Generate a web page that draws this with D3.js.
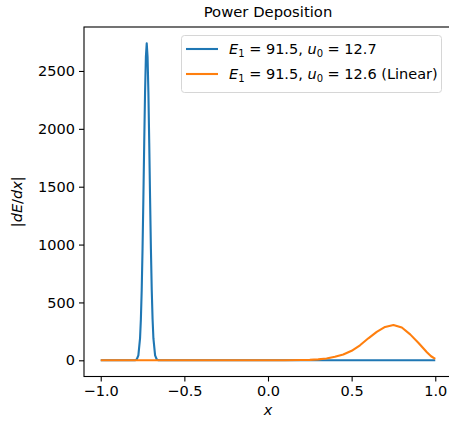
<!DOCTYPE html>
<html>
<head>
<meta charset="utf-8">
<script src="https://cdn.jsdelivr.net/npm/d3@7"></script>
<style>
  body { margin: 0; background: #fff; }
  text { font-family: "DejaVu Sans", sans-serif; fill: #000; }
</style>
</head>
<body>
<div id="chart"></div>
<script>
// values
var blueX = [-1.0, -0.795, -0.785, -0.775, -0.765, -0.76, -0.755, -0.75, -0.745, -0.74, -0.735, -0.73,
  -0.725, -0.72, -0.715, -0.71, -0.705, -0.70, -0.695, -0.69, -0.685, -0.675, -0.665, -0.655, 1.0];
var blueY = [0, 1, 7, 42, 189, 354, 608, 964, 1402, 1878, 2314, 2623,
  2740, 2623, 2314, 1878, 1402, 964, 608, 354, 189, 42, 7, 1, 0];

var orangeX = [-1.0, 0.0, 0.1, 0.2, 0.25, 0.3, 0.35, 0.4, 0.45, 0.5, 0.55, 0.6, 0.65, 0.7,
  0.75, 0.8, 0.85, 0.9, 0.95, 0.975, 1.0];
var orangeY = [0, 0, 0.5, 2, 4, 8, 16, 30, 50, 82, 130, 190, 245, 288,
  305, 283, 224, 150, 70, 35, 12];

var xTicks = [-1.0, -0.5, 0.0, 0.5, 1.0];
var yTicks = [0, 500, 1000, 1500, 2000, 2500];

var W = 449, H = 423;
var mLeft = 84, mRight = 452, mTop = 27, mBottom = 376.5;
var fs = "14.5px";

var svg = d3.select("#chart").append("svg")
  .attr("width", W).attr("height", H);

var xScale = d3.scaleLinear().domain([-1.1, 1.1]).range([mLeft, mRight]);
var yScale = d3.scaleLinear().domain([-140, 2880]).range([mBottom, mTop]);

var line = d3.line()
  .x(function (d) { return xScale(d[0]); })
  .y(function (d) { return yScale(d[1]); });

function pairs(xs, ys) { return xs.map(function (v, i) { return [v, ys[i]]; }); }

var plot = svg.append("g");
plot.append("path").datum(pairs(blueX, blueY)).attr("d", line)
  .attr("fill", "none").attr("stroke", "#1f77b4").attr("stroke-width", 2.1)
  .attr("stroke-linejoin", "round");
plot.append("path").datum(pairs(orangeX, orangeY)).attr("d", line)
  .attr("fill", "none").attr("stroke", "#ff7f0e").attr("stroke-width", 2.1)
  .attr("stroke-linejoin", "round");

// axes
var xAxis = d3.axisBottom(xScale).tickValues(xTicks).tickSize(5).tickPadding(4)
  .tickFormat(function (d) { return d3.format(".1f")(d).replace("-", "\u2212"); });
var yAxis = d3.axisLeft(yScale).tickValues(yTicks).tickSize(5).tickPadding(4)
  .tickFormat(d3.format("d"));

var gx = svg.append("g").attr("transform", "translate(0," + mBottom + ")").call(xAxis);
var gy = svg.append("g").attr("transform", "translate(" + mLeft + ",0)").call(yAxis);
[gx, gy].forEach(function (g) {
  g.select(".domain").remove();
  g.selectAll("line").attr("stroke", "#000").attr("stroke-width", 1.1);
  g.selectAll("text").style("font-family", "DejaVu Sans").style("font-size", fs).attr("fill", "#000");
});

// frame
svg.append("rect").attr("x", mLeft).attr("y", mTop)
  .attr("width", mRight - mLeft).attr("height", mBottom - mTop)
  .attr("fill", "none").attr("stroke", "#000").attr("stroke-width", 1.1);

// title and labels
svg.append("text").attr("x", (mLeft + mRight) / 2).attr("y", 17)
  .attr("text-anchor", "middle").style("font-size", "14.8px").text("Power Deposition");

svg.append("text").attr("x", (mLeft + mRight) / 2).attr("y", 415)
  .attr("text-anchor", "middle").style("font-size", fs).style("font-style", "italic").text("x");

var yl = svg.append("text").attr("transform", "translate(22," + ((mTop + mBottom) / 2) + ") rotate(-90)")
  .attr("text-anchor", "middle").style("font-size", fs);
yl.append("tspan").text("|");
yl.append("tspan").style("font-style", "italic").text("dE");
yl.append("tspan").text("/");
yl.append("tspan").style("font-style", "italic").text("dx");
yl.append("tspan").text("|");

// legend
var legendItems = [
  { color: "#1f77b4", v1: "91.5", v2: "12.7", extra: "" },
  { color: "#ff7f0e", v1: "91.5", v2: "12.6", extra: " (Linear)" }
];
var lg = svg.append("g");
lg.append("rect").attr("x", 181.5).attr("y", 35.5).attr("width", 260).attr("height", 57)
  .attr("rx", 3).attr("fill", "#fff").attr("fill-opacity", 0.8)
  .attr("stroke", "#d6d6d6").attr("stroke-width", 1);
legendItems.forEach(function (it, i) {
  var cy = 49 + i * 25;
  lg.append("line").attr("x1", 186).attr("x2", 218).attr("y1", cy).attr("y2", cy)
    .attr("stroke", it.color).attr("stroke-width", 2.1);
  var t = lg.append("text").attr("x", 229).attr("y", cy + 5).style("font-size", fs);
  t.append("tspan").style("font-style", "italic").text("E");
  t.append("tspan").attr("dy", 3).style("font-size", "10px").text("1");
  t.append("tspan").attr("dy", -3).text(" = " + it.v1 + ", ");
  t.append("tspan").style("font-style", "italic").text("u");
  t.append("tspan").attr("dy", 3).style("font-size", "10px").text("0");
  t.append("tspan").attr("dy", -3).text(" = " + it.v2 + it.extra);
});
</script>
</body>
</html>
